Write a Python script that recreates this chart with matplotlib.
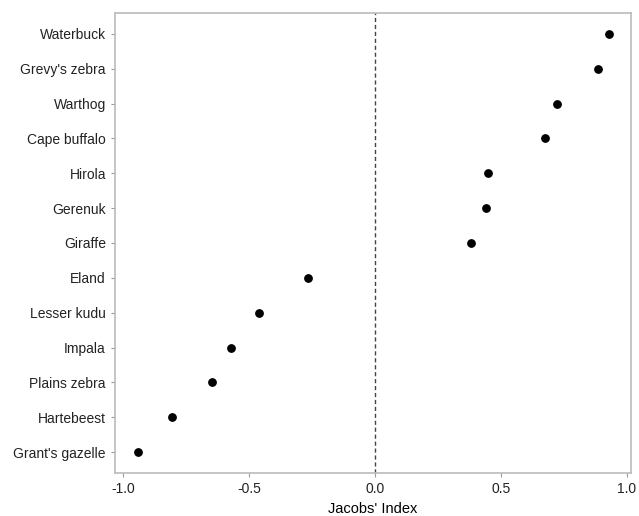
import matplotlib.pyplot as plt

species = [
    "Waterbuck", "Grevy's zebra", "Warthog", "Cape buffalo", "Hirola",
    "Gerenuk", "Giraffe", "Eland", "Lesser kudu", "Impala",
    "Plains zebra", "Hartebeest", "Grant's gazelle",
]
jacobs_index = [
    0.929, 0.885, 0.722, 0.675, 0.448,
    0.440, 0.381, -0.266, -0.460, -0.571,
    -0.647, -0.806, -0.940,
]
x_ticks = [-1.0, -0.5, 0.0, 0.5, 1.0]

plt.rcParams['font.family'] = ['Liberation Sans', 'DejaVu Sans']

fig = plt.figure(figsize=(6.39, 5.16), dpi=100)
ax = fig.add_axes([115 / 639, 1 - 473 / 516, (631 - 115) / 639, (473 - 13) / 516])

ypos = list(range(len(species) - 1, -1, -1))
ax.scatter(jacobs_index, ypos, s=28, color="black", zorder=3)
ax.axvline(0, color="#444444", linestyle=(0, (3, 2)), linewidth=1.0)

ax.set_xlim(-1.032, 1.016)
ax.set_ylim(-0.6, len(species) - 0.4)
ax.set_yticks(ypos)
ax.set_yticklabels(species)
ax.set_xticks(x_ticks)
ax.set_xticklabels([f"{t:.1f}" for t in x_ticks])
ax.set_xlabel("Jacobs' Index", fontsize=10.5, labelpad=4)

for s in ax.spines.values():
    s.set_color("#bbbbbb")
    s.set_linewidth(1.2)
ax.tick_params(axis="both", colors="#999999", length=3, width=0.8, labelsize=10,
               labelcolor="#222222")

fig.savefig("out.png", dpi=100)
